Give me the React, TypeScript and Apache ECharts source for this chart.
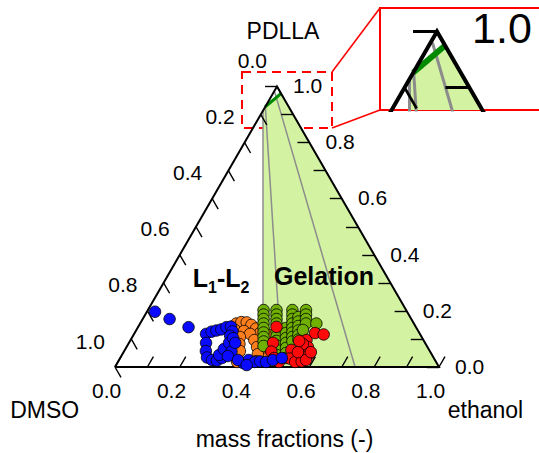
import React, { useEffect, useRef } from "react";
import * as echarts from "echarts";

const SQ = Math.sqrt(3) / 2;
const FONT = "'Liberation Sans', Arial, sans-serif";

// Compositions as [ethanol, PDLLA] mass fractions (DMSO = 1 - ethanol - PDLLA)
const bluePoints: number[][] = [
  [0.025, 0.197], [0.083, 0.171], [0.156, 0.142], [0.222, 0.118], [0.235, 0.126],
  [0.248, 0.13], [0.261, 0.134], [0.273, 0.142], [0.286, 0.144], [0.299, 0.127],
  [0.3, 0.111], [0.238, 0.086], [0.252, 0.057], [0.267, 0.034], [0.287, 0.025],
  [0.303, 0.023], [0.314, 0.032], [0.3, 0.043], [0.304, 0.064], [0.309, 0.086],
  [0.313, 0.103], [0.332, 0.055], [0.328, 0.086], [0.329, 0.039], [0.389, 0.014],
  [0.4, 0.025], [0.423, 0.018], [0.438, 0.02], [0.457, 0.018], [0.475, 0.025],
  [0.499, 0.032], [0.367, 0.025], [0.403, 0.007],
];
const orangePoints: number[][] = [
  [0.297, 0.155], [0.31, 0.16], [0.327, 0.159], [0.346, 0.15], [0.367, 0.137],
  [0.387, 0.121], [0.407, 0.1], [0.423, 0.077], [0.438, 0.053], [0.449, 0.03],
  [0.304, 0.132], [0.313, 0.109], [0.325, 0.086], [0.338, 0.062], [0.351, 0.039],
  [0.368, 0.018], [0.334, 0.128], [0.358, 0.118], [0.382, 0.096], [0.403, 0.071],
  [0.418, 0.046], [0.425, 0.021], [0.332, 0.107], [0.343, 0.082], [0.357, 0.057],
  [0.418, 0.114], [0.439, 0.078], [0.501, 0.036],
];
const greenPoints: number[][] = [
  [0.357, 0.203], [0.365, 0.187], [0.373, 0.171], [0.381, 0.155], [0.389, 0.139],
  [0.397, 0.123], [0.405, 0.107], [0.413, 0.091], [0.421, 0.075],
  [0.397, 0.203], [0.405, 0.187], [0.413, 0.171], [0.421, 0.155], [0.436, 0.125],
  [0.444, 0.109], [0.452, 0.093], [0.46, 0.077], [0.468, 0.061], [0.477, 0.043],
  [0.458, 0.139], [0.467, 0.121], [0.476, 0.103], [0.485, 0.086], [0.494, 0.068],
  [0.503, 0.05], [0.512, 0.032],
  [0.446, 0.203], [0.454, 0.187], [0.462, 0.171], [0.47, 0.155], [0.478, 0.139],
  [0.486, 0.123], [0.494, 0.107], [0.502, 0.091],
  [0.477, 0.178], [0.485, 0.162], [0.493, 0.146], [0.501, 0.13], [0.509, 0.114],
  [0.517, 0.098],
  [0.488, 0.203], [0.496, 0.187], [0.504, 0.171], [0.512, 0.155], [0.544, 0.155],
  [0.514, 0.132],
];
const redPoints: number[][] = [
  [0.427, 0.143], [0.445, 0.086], [0.455, 0.055], [0.475, 0.032], [0.514, 0.061],
  [0.525, 0.03], [0.547, 0.018], [0.566, 0.02], [0.543, 0.096], [0.56, 0.071],
  [0.576, 0.043], [0.577, 0.025], [0.557, 0.121], [0.586, 0.116], [0.539, 0.082],
  [0.538, 0.053], [0.578, 0.053], [0.522, 0.093], [0.497, 0.018],
];

const tickValues = [0, 0.1, 0.2, 0.3, 0.4, 0.5, 0.6, 0.7, 0.8, 0.9, 1.0];
const labelValues = [0, 0.2, 0.4, 0.6, 0.8, 1.0];

const gelationRegion: number[][] = [[0.457, 0], [0, 0.914], [0, 0.927], [0.025, 0.975], [1, 0]];
const phaseBoundary: number[][] = [[0, 0.927], [0.025, 0.975]];
const grayLines: number[][][] = [
  [[0.457, 0], [0, 0.914]],
  [[0.515, 0], [0, 0.928]],
  [[0.741, 0], [0.003, 0.98]],
];
const triangle: number[][] = [[0, 0], [1, 0], [0, 1], [0, 0]];

const toXY = (t: number[]) => [t[0] + t[1] / 2, t[1] * SQ];

function frameSeries(gi: number, k: number, clip: boolean): any[] {
  const axis = { xAxisIndex: gi, yAxisIndex: gi };
  const T = 0.037;
  const ticks: number[][][] = [];
  tickValues.forEach((v) => {
    ticks.push([[0, 1 - v], [T, 1 - v - T]]);
    ticks.push([[1 - v, v], [1 - v - T, v]]);
    ticks.push([[v, 0], [v, T]]);
  });
  const linesBase = { type: "lines", coordinateSystem: "cartesian2d", ...axis, clip, silent: true };
  return [
    {
      type: "custom", ...axis, clip, z: 1, silent: true, data: [[0.5, 0.3]],
      renderItem: (_p: any, api: any) => ({
        type: "polygon",
        shape: { points: gelationRegion.map((t) => api.coord(toXY(t))) },
        style: { fill: "#d3f3a2", stroke: null },
      }),
    },
    { ...linesBase, z: 2, data: grayLines.map((l) => ({ coords: l.map(toXY) })),
      lineStyle: { color: "#8c8c8c", width: 1.5 * k, opacity: 1, curveness: 0 } },
    { ...linesBase, z: 3, data: [{ coords: phaseBoundary.map(toXY) }],
      lineStyle: { color: "#008a00", width: 3 * k, opacity: 1, curveness: 0 } },
    { ...linesBase, z: 4, polyline: true, data: [{ coords: triangle.map(toXY) }],
      lineStyle: { color: "#000", width: 2 * k, opacity: 1, join: "miter" } },
    { ...linesBase, z: 4, data: ticks.map((l) => ({ coords: l.map(toXY) })),
      lineStyle: { color: "#000", width: 1.4 * k, opacity: 1, curveness: 0 } },
  ];
}

function pointSeries(data: number[][], color: string) {
  return {
    type: "scatter", xAxisIndex: 0, yAxisIndex: 0, clip: false, z: 6, silent: true,
    symbolSize: 11.5, data: data.map(toXY),
    itemStyle: { color, borderColor: "#000", borderWidth: 0.8, opacity: 1 },
  };
}

export default function App() {
  const ref = useRef<HTMLDivElement>(null);
  useEffect(() => {
    const chart = echarts.init(ref.current!, undefined, { renderer: "svg" });
    chart.setOption({
      animation: false,
      backgroundColor: "#fff",
      grid: [
        { left: 115, top: 86.5, width: 324, height: 280.5, outerBoundsMode: "none" },
        { left: 380, top: 8, width: 165, height: 102, show: true, borderColor: "#ff0000", borderWidth: 2, backgroundColor: "#fff", outerBoundsMode: "none" },
      ],
      xAxis: [
        { gridIndex: 0, type: "value", min: 0, max: 1, show: false },
        { gridIndex: 1, type: "value", min: 0.41204, max: 0.66667, show: false },
      ],
      yAxis: [
        { gridIndex: 0, type: "value", min: 0, max: SQ, show: false },
        { gridIndex: 1, type: "value", min: 0.74488, max: 0.90229, show: false },
      ],
      series: [
        ...frameSeries(0, 1, false),
        ...frameSeries(1, 2, true),
        pointSeries(orangePoints, "#ff7f1e"),
        pointSeries(greenPoints, "#70b000"),
        pointSeries(redPoints, "#ff0a0a"),
        pointSeries(bluePoints, "#0a0aff"),
      ],
    });

    const at = (gi: number, t: number[], off: number[]) => {
      const px = chart.convertToPixel({ gridIndex: gi } as any, toXY(t)) as number[];
      return [px[0] + off[0], px[1] + off[1]];
    };
    const text = (s: string, pos: number[], size = 21, weight = "normal", rich?: any) => ({
      type: "text", x: pos[0], y: pos[1], silent: true, z: 100,
      style: {
        text: s, fill: "#000", font: `${weight} ${size}px ${FONT}`,
        fontFamily: FONT, fontSize: size, fontWeight: weight,
        align: "center", verticalAlign: "middle", rich,
      },
    });

    const labels: any[] = [
      ...labelValues.map((d) => text(d.toFixed(1), at(0, [0, 1 - d], [-24.6, -26]))),
      ...labelValues.map((p) => text(p.toFixed(1), at(0, [1 - p, p], [30.7, -0.8]))),
      ...labelValues.map((e) => text(e.toFixed(1), at(0, [e, 0], [-8.3, 23]))),
      text("Gelation", at(0, [0.4829, 0.3244], [0, 0]), 25, "bold"),
      text("{a|L}{b|1}{a|-L}{b|2}", at(0, [0.167, 0.3209], [0, 2]), 25, "bold", {
        a: { fontSize: 25, fontWeight: "bold", fontFamily: FONT, fill: "#000", lineHeight: 27, verticalAlign: "top" },
        b: { fontSize: 16, fontWeight: "bold", fontFamily: FONT, fill: "#000", lineHeight: 16, padding: [14, 0, 0, 0], verticalAlign: "top" },
      }),
      text("1.0", at(1, [0, 1], [65, -3]), 43),
    ];

    chart.setOption({
      graphic: [
        text("PDLLA", [283, 31], 23),
        text("DMSO", [44.7, 410], 23),
        text("ethanol", [485.5, 410], 23),
        text("mass fractions (-)", [284.5, 439], 23),
        { type: "rect", silent: true, shape: { x: 242, y: 72, width: 90, height: 56 },
          style: { fill: "none", stroke: "#ff0000", lineWidth: 2, lineDash: [9, 6] } },
        { type: "line", silent: true, shape: { x1: 332, y1: 72, x2: 380, y2: 8 },
          style: { stroke: "#ff0000", lineWidth: 1.5 } },
        { type: "line", silent: true, shape: { x1: 332, y1: 128, x2: 380, y2: 110 },
          style: { stroke: "#ff0000", lineWidth: 1.5 } },
        ...labels,
      ],
    });
    return () => chart.dispose();
  }, []);
  return (
    <div
      ref={ref}
      style={{ position: "fixed", left: 0, top: 0, width: 539, height: 453, background: "#fff" }}
    />
  );
}
